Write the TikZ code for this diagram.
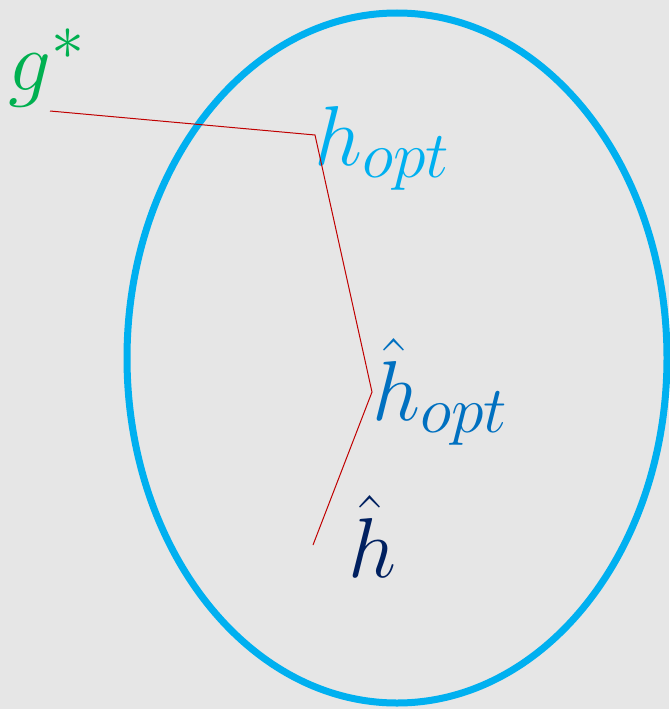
\RequirePackage{fix-cm}
\documentclass[tikz,border=0pt]{standalone}
\DeclareMathSizes{85}{85}{66}{52}
\definecolor{bg}{HTML}{E6E6E6}
\definecolor{cgreen}{HTML}{00B050}
\definecolor{clight}{HTML}{00B0F0}
\definecolor{cmid}{HTML}{0070C0}
\definecolor{cnavy}{HTML}{002060}
\definecolor{cred}{HTML}{C00000}
\begin{document}
\begin{tikzpicture}[x=1pt,y=-1pt,
  lbl/.style={inner sep=0pt,anchor=base west,font=\fontsize{85}{100}\selectfont},
  path/.style={draw=cred,line width=1pt}]
\fill[bg] (0,0) rectangle (669,709);
\useasboundingbox (0,0) rectangle (669,709);
\draw[clight,line width=7pt] (397,358) ellipse [x radius=270,y radius=345];
\node[lbl,text=cgreen] (g) at (8,90) {$g^*$};
\node[lbl,text=clight] (hopt) at (314,165) {$h_{opt}$};
\node[lbl,text=cmid] (hhopt) at (372,420) {$\hat{h}_{opt}$};
\node[lbl,text=cnavy] (hh) at (348,577) {$\hat{h}$};
\coordinate (p1) at (50,111);
\coordinate (p2) at (315,135);
\coordinate (p3) at (372,392);
\coordinate (p4) at (313,545);
\draw[path] (p1) -- (p2) -- (p3) -- (p4);
\end{tikzpicture}
\end{document}
